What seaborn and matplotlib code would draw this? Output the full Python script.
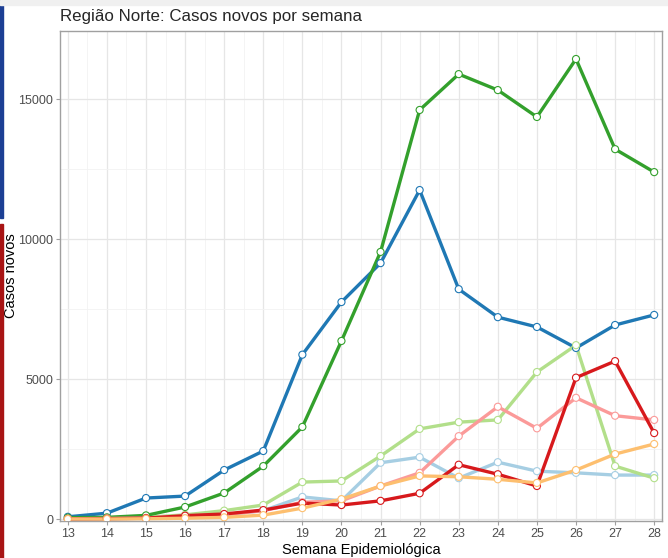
import pandas as pd
import matplotlib.pyplot as plt
import matplotlib.patches as mpatches
from matplotlib.ticker import MultipleLocator
import seaborn as sns

# Weekly new cases, Norte region states
semanas = list(range(13, 29))
AC = [10, 20, 40, 80, 150, 300, 790, 650, 2010, 2210, 1460, 2030, 1710, 1650, 1570, 1570]
AM = [80, 210, 750, 820, 1750, 2430, 5870, 7750, 9140, 11750, 8210, 7210, 6860, 6110, 6930, 7290]
AP = [10, 20, 60, 150, 300, 500, 1320, 1360, 2250, 3220, 3460, 3540, 5250, 6210, 1890, 1460]
PA = [50, 60, 130, 430, 930, 1890, 3290, 6360, 9540, 14610, 15890, 15320, 14360, 16430, 13210, 12390]
RO = [10, 20, 40, 100, 160, 300, 600, 650, 1180, 1650, 2960, 4010, 3240, 4330, 3690, 3540]
RR = [0, 10, 30, 120, 180, 320, 570, 500, 650, 920, 1940, 1600, 1180, 5050, 5640, 3070]
TO = [0, 0, 10, 30, 60, 140, 390, 710, 1180, 1540, 1510, 1420, 1290, 1750, 2320, 2680]

estados = ["AC", "AM", "AP", "PA", "RO", "RR", "TO"]
cores = ["#a6cee3", "#1f78b4", "#b2df8a", "#33a02c", "#fb9a99", "#d7191c", "#fdbf6f"]


def build_df():
    series = dict(zip(estados, [AC, AM, AP, PA, RO, RR, TO]))
    rows = []
    for uf, vals in series.items():
        for s, v in zip(semanas, vals):
            rows.append({"semana": s, "casos": v, "uf": uf})
    return pd.DataFrame(rows)


def make_plot(df):
    sns.set_theme(style="white")
    plt.rcParams["font.family"] = ["Liberation Sans", "DejaVu Sans"]

    fig = plt.figure(figsize=(6.68, 5.58), dpi=100)
    ax = fig.add_axes([60 / 668, 1 - 521 / 558, 602 / 668, 490 / 558])

    # screenshot edge strips
    fig.patches.append(mpatches.Rectangle((0, 1 - 218 / 558), 3 / 668, 218 / 558,
                                          transform=fig.transFigure, color="#1c3f94", zorder=0))
    fig.patches.append(mpatches.Rectangle((0, 0), 3 / 668, 1 - 224 / 558,
                                          transform=fig.transFigure, color="#a81414", zorder=0))
    fig.patches.append(mpatches.Rectangle((0, 1 - 5 / 558), 1, 5 / 558,
                                          transform=fig.transFigure, color="#f0f0f0", zorder=0))

    pal = dict(zip(estados, cores))
    sns.lineplot(data=df, x="semana", y="casos", hue="uf", palette=pal,
                 linewidth=2.4, legend=False, ax=ax, zorder=2)
    sns.scatterplot(data=df, x="semana", y="casos", hue="uf", palette=pal,
                    s=26, legend=False, ax=ax, zorder=3, linewidth=0.8)
    pts = ax.collections[-1]
    pts.set_edgecolors(pts.get_facecolors())
    pts.set_facecolor("white")

    ax.set_xlim(12.8, 28.2)
    ax.set_ylim(-70, 17430)
    ax.set_xticks(semanas)
    ax.xaxis.set_minor_locator(MultipleLocator(0.5))
    ax.set_yticks([0, 5000, 10000, 15000])
    ax.yaxis.set_minor_locator(MultipleLocator(2500))

    ax.grid(which="major", color="#e6e6e6", linewidth=0.9)
    ax.grid(which="minor", color="#f2f2f2", linewidth=0.6)
    ax.set_axisbelow(True)
    for sp in ax.spines.values():
        sp.set_color("#a0a0a0")
        sp.set_linewidth(1.0)

    ax.tick_params(axis="both", which="major", length=3, width=0.8, color="#a0a0a0",
                   labelsize=9, labelcolor="#4d4d4d", pad=2, bottom=True, left=True)
    ax.tick_params(which="minor", length=0)

    ax.set_xlabel("Semana Epidemiológica", fontsize=10.5, color="black", labelpad=2)
    ax.set_ylabel("Casos novos", fontsize=10.5, color="black", labelpad=0)
    ax.set_title("Região Norte: Casos novos por semana", loc="left", fontsize=12.2, pad=7)

    fig.savefig("out.png", dpi=100)


def main():
    df = build_df()
    make_plot(df)


if __name__ == "__main__":
    main()
